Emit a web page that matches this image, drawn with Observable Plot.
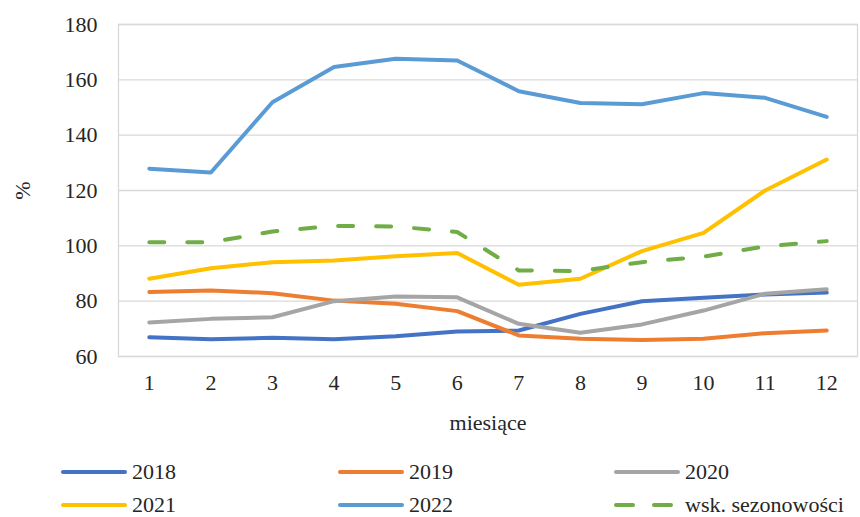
<!DOCTYPE html>
<html>
<head>
<meta charset="utf-8">
<script src="https://cdn.jsdelivr.net/npm/d3@7"></script>
<script src="https://cdn.jsdelivr.net/npm/@observablehq/plot@0.6"></script>
<style>
  html, body { margin: 0; padding: 0; background: #fff; }
  body { width: 860px; height: 517px; position: relative; overflow: hidden; font-family: "Liberation Serif", "Times New Roman", serif; color: #262626; }
  #chart { position: absolute; left: 0; top: 0; }
  #chart svg, #chart svg text { font-family: "Liberation Serif", "Times New Roman", serif !important; }
  .leg { position: absolute; display: flex; align-items: center; height: 18px; font-family: "Liberation Serif", "Times New Roman", serif; font-size: 22px; line-height: 18px; white-space: nowrap; color: #262626; }
  .leg svg { margin-right: 5px; }
</style>
</head>
<body>
<div id="chart"></div>
<div id="legend"></div>
<script>
const months = [1,2,3,4,5,6,7,8,9,10,11,12];
const yTicks = [60,80,100,120,140,160,180];
const seriesNames = ["2018","2019","2020","2021","2022","wsk. sezonowości"];
const v2018 = [67.0,66.2,66.8,66.2,67.3,69.0,69.4,75.4,80.0,81.2,82.4,83.1];
const v2019 = [83.3,83.9,82.9,80.2,79.1,76.4,67.6,66.4,66.0,66.4,68.4,69.4];
const v2020 = [72.3,73.6,74.2,80.0,81.7,81.4,71.8,68.6,71.6,76.6,82.7,84.3];
const v2021 = [88.1,91.9,94.1,94.7,96.2,97.4,85.9,88.1,98.1,104.7,120.0,131.2];
const v2022 = [127.9,126.5,151.9,164.6,167.6,167.0,155.9,151.6,151.2,155.2,153.5,146.6];
const vSez  = [101.3,101.3,105.2,107.2,107.0,105.0,91.1,90.9,94.1,96.1,99.8,101.7];
const colors = ["#4472C4","#ED7D31","#A5A5A5","#FFC000","#5B9BD5","#70AD47"];

const allValues = [v2018,v2019,v2020,v2021,v2022,vSez];
const data = [];
seriesNames.forEach((s,i) => months.forEach((m,j) => data.push({series: s, month: m, value: allValues[i][j]})));

const solid = data.filter(d => d.series !== "wsk. sezonowości");
const dashed = data.filter(d => d.series === "wsk. sezonowości");
const FF = '"Liberation Serif", "Times New Roman", serif';

const chart = Plot.plot({
  width: 860,
  height: 440,
  marginLeft: 118,
  marginRight: 3,
  marginTop: 24,
  marginBottom: 84,
  style: {fontFamily: FF, fontSize: "22px", color: "#262626", background: "#fff"},
  x: {type: "linear", domain: [0.5, 12.5]},
  y: {domain: [60, 180]},
  color: {domain: seriesNames, range: colors},
  marks: [
    Plot.ruleY(yTicks, {stroke: "#D9D9D9", strokeWidth: 1.3}),
    Plot.frame({stroke: "#D9D9D9", strokeWidth: 1.3}),
    Plot.axisY({ticks: yTicks, tickSize: 0, tickPadding: 21, fontSize: 22, fontFamily: FF, label: "%", labelAnchor: "center", labelArrow: "none", labelOffset: 104}),
    Plot.axisX({ticks: months, tickSize: 0, tickPadding: 18, fontSize: 22, fontFamily: FF, tickFormat: d => String(d), label: "miesiące", labelAnchor: "center", labelArrow: "none", labelOffset: 73}),
    Plot.line(solid, {x: "month", y: "value", z: "series", stroke: "series", strokeWidth: 4, strokeLinecap: "round", strokeLinejoin: "round"}),
    Plot.line(dashed, {x: "month", y: "value", stroke: "series", strokeWidth: 4, strokeDasharray: "15,23", strokeLinecap: "round", strokeLinejoin: "round"})
  ]
});
document.getElementById("chart").appendChild(chart);

// legend
const legendPos = [
  {x: 63, y: 472}, {x: 340, y: 472}, {x: 616, y: 472},
  {x: 63, y: 505}, {x: 340, y: 505}, {x: 616, y: 505}
];
const legend = document.getElementById("legend");
seriesNames.forEach((s, i) => {
  const div = document.createElement("div");
  div.className = "leg";
  div.style.left = legendPos[i].x - 2 + "px";
  div.style.top = (legendPos[i].y - 9) + "px";
  const dash = s === "wsk. sezonowości" ? 'stroke-dasharray="17,21"' : "";
  div.innerHTML = `<svg width="66" height="10"><line x1="2" y1="5" x2="64" y2="5" stroke="${colors[i]}" stroke-width="4" stroke-linecap="round" ${dash}/></svg><span>${s}</span>`;
  legend.appendChild(div);
});
</script>
</body>
</html>
